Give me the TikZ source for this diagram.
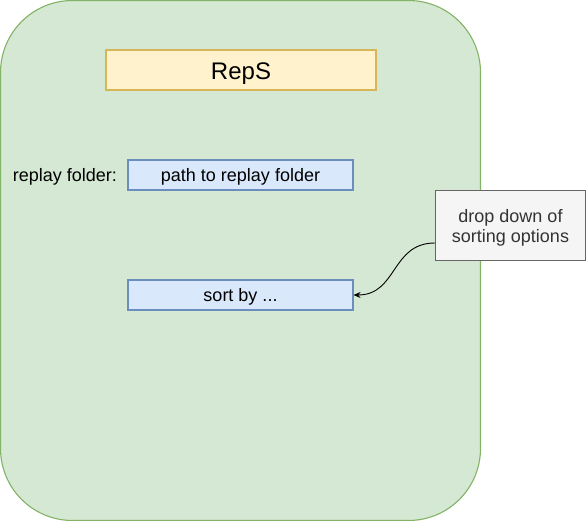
\documentclass[tikz,border=0pt]{standalone}
\usepackage{fontspec}
\setmainfont{Liberation Sans}
\usetikzlibrary{arrows.meta,positioning}

\definecolor{framefill}{HTML}{D5E8D4}
\definecolor{framedraw}{HTML}{82B366}
\definecolor{titlefill}{HTML}{FFF2CC}
\definecolor{titledraw}{HTML}{D6B656}
\definecolor{fieldfill}{HTML}{DAE8FC}
\definecolor{fielddraw}{HTML}{6C8EBF}
\definecolor{notefill}{HTML}{F5F5F5}
\definecolor{notedraw}{HTML}{666666}
\definecolor{notetext}{HTML}{333333}

\begin{document}
\begin{tikzpicture}[x=1pt,y=-1pt,line width=1.1pt,
  font=\fontsize{18}{20}\selectfont,text height=13pt,text depth=0pt]
  \tikzset{frame/.style={draw=framedraw,fill=framefill,rounded corners=72pt,
      minimum width=480pt,minimum height=520pt},
    titlebox/.style={draw=titledraw,fill=titlefill,minimum width=270pt,
      minimum height=40pt,inner sep=0pt,text height=18.6pt,
      font=\fontsize{24}{28}\selectfont},
    field/.style={draw=fielddraw,fill=fieldfill,minimum width=225pt,
      minimum height=30pt,inner sep=0pt},
    note/.style={draw=notedraw,fill=notefill,text=notetext,align=center,
      text height=,minimum width=150pt,minimum height=70pt,inner sep=0pt}}
  \useasboundingbox (0,0) rectangle (586,521);

  \node[frame] (app) at (240.5,260.5) {};
  \node[titlebox] (title) at (241,70) {RepS};
  \node[field] (path) at (240.5,175) {path to replay folder};
  \node[inner sep=0pt] (pathlabel) [left=10pt of path] {replay folder:};
  \node[field] (sort) at (240.5,295) {sort by ...};
  \node[note] (hint) at (510.5,225.5) {drop down of\\sorting options};

  \draw[-{Stealth[length=7pt,width=6pt]},line width=0.9pt]
  ([yshift=-17.5pt]hint.west) .. controls +(-44,0) and +(44,0) .. (sort.east);
\end{tikzpicture}
\end{document}
